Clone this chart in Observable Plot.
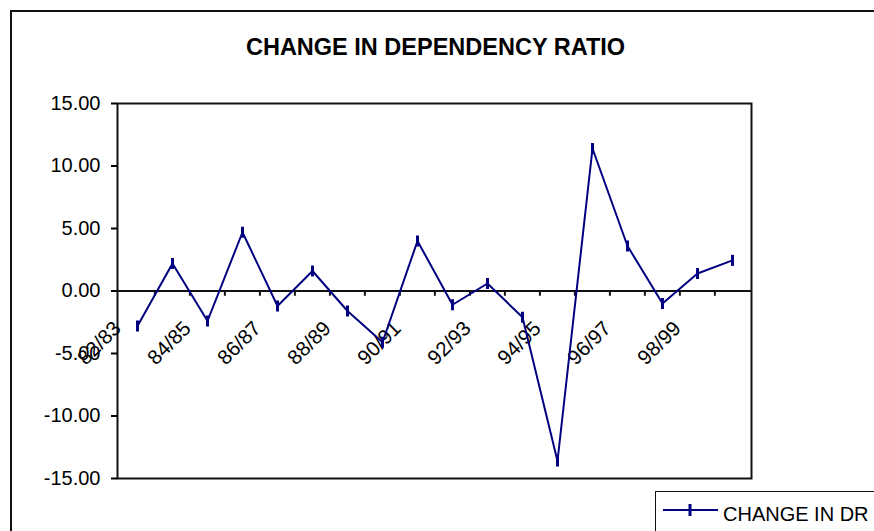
<!DOCTYPE html>
<html>
<head>
<meta charset="utf-8">
<script src="https://cdn.jsdelivr.net/npm/d3@7"></script>
<script src="https://cdn.jsdelivr.net/npm/@observablehq/plot@0.6"></script>
<style>
  html, body { margin: 0; padding: 0; background: #fff; overflow: hidden; }
  #wrap { position: relative; width: 874px; height: 531px; overflow: hidden; font-family: "Liberation Sans", Arial, sans-serif; }
  #border { position: absolute; left: 10px; top: 10px; width: 900px; height: 600px; border-left: 2px solid #111; border-top: 2px solid #111; }
  #title { position: absolute; left: 0; width: 871px; top: 36px; text-align: center; font-weight: bold; font-size: 23.5px; line-height: 1; color: #000; }
  #legend { position: absolute; left: 655px; top: 491px; width: 260px; height: 80px; border: 1.5px solid #111; background: #fff; }
  #legend svg { position: absolute; left: 7px; top: 11px; }
  #legend span { position: absolute; left: 67px; top: 12px; font-size: 20px; line-height: 1; color: #000; }
  #chart { position: absolute; left: 0; top: 0; }
</style>
</head>
<body>
<div id="wrap">
  <div id="border"></div>
  <div id="chart"></div>
  <div id="title">CHANGE IN DEPENDENCY RATIO</div>
  <div id="legend">
    <svg width="56" height="14"><line x1="0" y1="7" x2="55" y2="7" stroke="#000080" stroke-width="2"/><line x1="27" y1="1" x2="27" y2="13" stroke="#000080" stroke-width="3"/></svg>
    <span>CHANGE IN DR</span>
  </div>
</div>
<script>
const categories = ["82/83","83/84","84/85","85/86","86/87","87/88","88/89","89/90","90/91","91/92","92/93","93/94","94/95","95/96","96/97","97/98","98/99","99/00"];
const changeInDR = [-2.8, 2.2, -2.4, 4.7, -1.2, 1.6, -1.6, -4.1, 4.0, -1.1, 0.6, -2.1, -13.6, 11.4, 3.6, -1.0, 1.4, 2.45];
const labelCategories = categories.filter((d, i) => i % 2 === 0);
const yTicks = [-15, -10, -5, 0, 5, 10, 15];

const data = categories.map((c, i) => ({cat: c, value: changeInDR[i]}));

const W = 874, H = 531, mL = 117, mR = 123, mT = 103, mB = 53;
const step = (W - mL - mR) / categories.length;

const tickSymbol = {
  draw(context) {
    context.moveTo(0, -5.5);
    context.lineTo(0, 5.5);
  }
};

const navy = "#000080";

const chart = Plot.plot({
  width: W,
  height: H,
  marginLeft: mL,
  marginRight: mR,
  marginTop: mT,
  marginBottom: mB,
  style: {fontFamily: "Liberation Sans, Arial, sans-serif", fontSize: "20px", background: "transparent", color: "#000"},
  x: {type: "point", domain: categories, padding: 0.5, axis: null},
  y: {domain: [-15, 15], axis: null},
  marks: [
    Plot.frame({stroke: "#111", strokeWidth: 2}),
    Plot.axisY({ticks: yTicks, tickSize: 6, tickPadding: 11, tickFormat: d => d.toFixed(2), label: null, fontSize: 20, strokeWidth: 2}),
    Plot.ruleY([0], {stroke: "#111", strokeWidth: 2}),
    Plot.ruleX(categories.slice(1), {x: d => d, y1: 0, y2: -0.42, dx: -step / 2, stroke: "#111", strokeWidth: 2}),
    Plot.text(labelCategories, {x: d => d, y: 0, text: d => d, rotate: -45, textAnchor: "end", lineAnchor: "middle", dx: -20, dy: 34, fontSize: 20.5, fill: "#000"}),
    Plot.line(data, {x: "cat", y: "value", stroke: navy, strokeWidth: 2}),
    Plot.dot(data, {x: "cat", y: "value", symbol: tickSymbol, stroke: navy, strokeWidth: 3, fill: "none", r: 5})
  ]
});
document.getElementById("chart").appendChild(chart);
</script>
</body>
</html>
